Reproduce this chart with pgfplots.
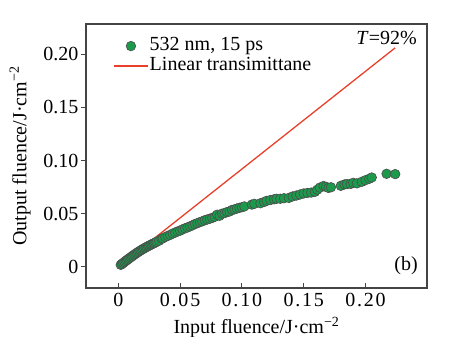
\documentclass[border=0pt]{standalone}
\usepackage{pgfplots}
\pgfplotsset{compat=1.18}
\usepackage{fontspec}
\setmainfont{Liberation Serif}
\newfontfamily\xtfont[LetterSpace=9]{Liberation Serif}
\definecolor{mkgreen}{HTML}{1B9A4B}
\definecolor{lnred}{HTML}{E8402A}
\definecolor{axgray}{HTML}{444444}
\newcommand{\fs}{\fontsize{20bp}{22bp}\selectfont}
\pgfplotsset{
  linelegend/.style={legend image code/.code={\draw[lnred, line width=1.6bp] (0bp,0bp) -- (34bp,0bp);}},
  marklegend/.style={legend image code/.code={\draw[##1,mark repeat=2,mark phase=2] plot coordinates {(0bp,0bp) (17bp,0bp) (34bp,0bp)};}},
}
\begin{document}
\begin{tikzpicture}
\path[use as bounding box] (0,0) rectangle (449bp,337bp);
\begin{axis}[
  scale only axis, width=341bp, height=264bp,
  at={(86bp,49bp)}, anchor=south west,
  xmin=-0.0261, xmax=0.2497, ymin=-0.020, ymax=0.2285,
  axis line style={axgray, line width=1.3bp},
  xtick={0,0.05,0.10,0.15,0.20,0.25},
  xticklabels={0,0.05,0.10,0.15,0.20,0.25},
  ytick={0,0.05,0.10,0.15,0.20},
  yticklabels={0,0.05,0.10,0.15,0.20},
  xtick pos=bottom, ytick pos=left,
  xtick align=inside, ytick align=outside,
  major tick length=5bp,
  tick style={axgray, line width=1bp},
  xticklabel style={font=\xtfont\fs, yshift=-2bp},
  yticklabel style={font=\fs, xshift=1bp},
  label style={font=\fs},
  xlabel={Input fluence/J·cm\textsuperscript{−2}},
  ylabel={Output fluence/J·cm\textsuperscript{−2}},
  xlabel style={at={(axis description cs:0.5,-0.150)}, anchor=center},
  ylabel style={at={(axis description cs:-0.1935,0.5)}, anchor=center, rotate=0},
  legend style={draw=none, fill=none, at={(0.079,0.955)}, anchor=north west,
    font=\fs, row sep=0bp,
    inner sep=0pt, nodes={inner sep=1bp, text height=13.5bp, text depth=4.5bp}},
  legend cell align=left,
]
\addplot[only marks, mark=*, mark size=4.8bp,
  mark options={fill=mkgreen, draw=black!70, line width=0.6bp}, marklegend]
coordinates {
(0.002,0.0018) (0.003,0.0027) (0.004,0.0036) (0.005,0.0045) (0.006,0.0054)
(0.007,0.0063) (0.008,0.0071) (0.009,0.0080) (0.010,0.0089) (0.011,0.0097)
(0.012,0.0106) (0.013,0.0114) (0.014,0.0122) (0.015,0.0130) (0.016,0.0138)
(0.017,0.0146) (0.018,0.0153) (0.019,0.0160) (0.020,0.0167) (0.021,0.0174)
(0.022,0.0180) (0.023,0.0187) (0.024,0.0193) (0.025,0.0199) (0.026,0.0205)
(0.027,0.0211) (0.028,0.0217) (0.029,0.0222) (0.030,0.0228) (0.031,0.0235)
(0.033,0.0245) (0.035,0.0262) (0.036,0.0268) (0.038,0.0280) (0.040,0.0290)
(0.042,0.0300) (0.044,0.0312) (0.046,0.0322) (0.048,0.0332) (0.050,0.0340)
(0.052,0.0352) (0.054,0.0362) (0.056,0.0370) (0.058,0.0380) (0.060,0.0390)
(0.062,0.0402) (0.064,0.0410) (0.066,0.0420) (0.068,0.0428) (0.070,0.0438)
(0.072,0.0445) (0.074,0.0452) (0.076,0.0460) (0.078,0.0470) (0.080,0.0490)
(0.082,0.0480) (0.084,0.0500) (0.086,0.0505) (0.088,0.0515) (0.090,0.0520)
(0.092,0.0535) (0.094,0.0540) (0.096,0.0548) (0.098,0.0555) (0.100,0.0560)
(0.102,0.0568) (0.108,0.0585) (0.110,0.0592) (0.115,0.0598) (0.118,0.0610)
(0.120,0.0620) (0.123,0.0628) (0.126,0.0635) (0.128,0.0640) (0.131,0.0640)
(0.134,0.0645) (0.138,0.0648) (0.141,0.0662) (0.144,0.0670) (0.147,0.0680)
(0.150,0.0690) (0.153,0.0695) (0.156,0.0698) (0.159,0.0705) (0.161,0.0725)
(0.163,0.0745) (0.166,0.0760) (0.168,0.0752) (0.170,0.0742) (0.172,0.0748)
(0.180,0.0762) (0.183,0.0775) (0.185,0.0778) (0.188,0.0780) (0.190,0.0790)
(0.193,0.0785) (0.197,0.0800) (0.200,0.0815) (0.203,0.0828) (0.205,0.0840)
(0.217,0.0875) (0.224,0.0872)
};
\addlegendentry{532 nm, 15 ps}
\addplot[lnred, line width=1.3bp, linelegend] coordinates {(0.002,0.0018) (0.224,0.2061)};
\addlegendentry{Linear transimittane}
\node[font=\fs] at (axis cs:0.217,0.215) {\textit{T}=92\%};
\node[font=\fs] at (axis cs:0.2328,0.001) {(b)};
\end{axis}
\end{tikzpicture}
\end{document}
